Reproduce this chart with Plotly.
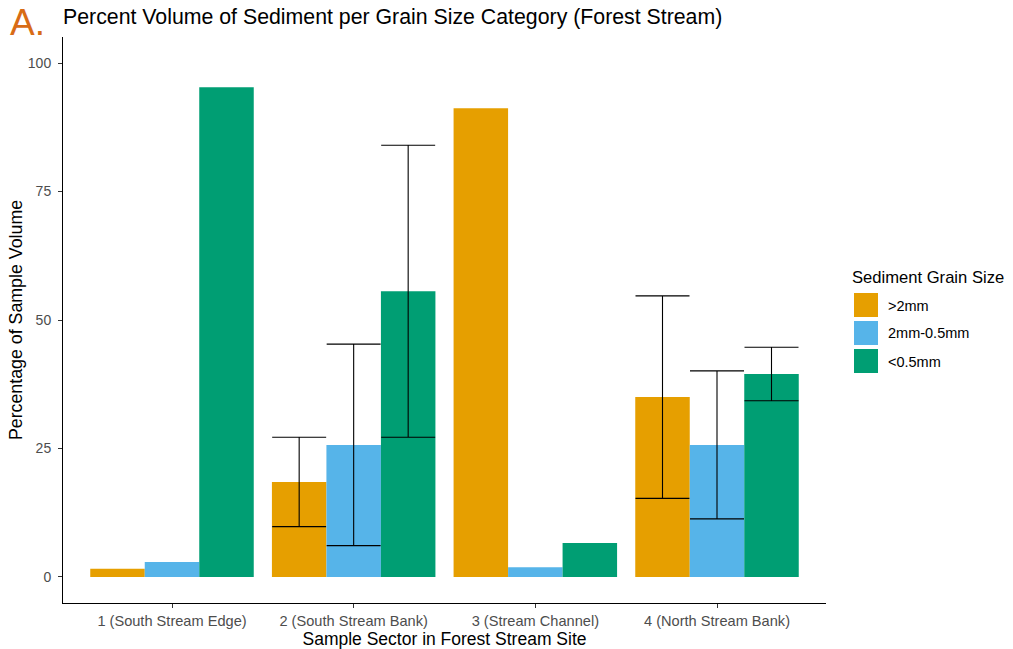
import plotly.graph_objects as go

sectors = ["1 (South Stream Edge)", "2 (South Stream Bank)", "3 (Stream Channel)", "4 (North Stream Bank)"]
grain_sizes = [">2mm", "2mm-0.5mm", "<0.5mm"]
colors = ["#E69F00", "#56B4E9", "#009E73"]

pct_gt2 = [1.6, 18.5, 91.2, 35.0]
pct_mid = [2.9, 25.7, 1.9, 25.7]
pct_lt05 = [95.3, 55.6, 6.6, 39.5]

# standard deviation (None = no error bar reported)
sd_gt2 = [None, 8.7, None, 19.7]
sd_mid = [None, 19.6, None, 14.4]
sd_lt05 = [None, 28.4, None, 5.2]

values = [pct_gt2, pct_mid, pct_lt05]
errors = [sd_gt2, sd_mid, sd_lt05]

FONT = "Liberation Sans, Arial, sans-serif"

W, H = 1013, 649
PL, PR, PT, PB = 63, 826, 37, 603  # plot area in pixels


def xp(px):
    return (px - PL) / (PR - PL)


def yp(py):
    return (PB - py) / (PB - PT)


fig = go.Figure()
for name, col, vals, errs in zip(grain_sizes, colors, values, errors):
    with_err = [i for i, e in enumerate(errs) if e is not None]
    without_err = [i for i, e in enumerate(errs) if e is None]
    fig.add_trace(go.Bar(
        x=[sectors[i] for i in without_err], y=[vals[i] for i in without_err],
        name=name, offsetgroup=name, showlegend=False,
        marker=dict(color=col, line=dict(width=0)),
    ))
    fig.add_trace(go.Bar(
        x=[sectors[i] for i in with_err], y=[vals[i] for i in with_err],
        name=name, offsetgroup=name, showlegend=False,
        marker=dict(color=col, line=dict(width=0)),
        error_y=dict(type="data", array=[errs[i] for i in with_err],
                     visible=True, color="black", thickness=1.1, width=27),
    ))

shapes = []
annotations = [
    dict(text="Percent Volume of Sediment per Grain Size Category (Forest Stream)",
         xref="paper", yref="paper", x=xp(61), y=yp(17), xanchor="left", yanchor="middle",
         showarrow=False, font=dict(size=21.3, color="black")),
    dict(text="A.", xref="paper", yref="paper", x=xp(8), y=yp(22), xanchor="left", yanchor="middle",
         showarrow=False, font=dict(size=37, color="#D86C16")),
    dict(text="Sediment Grain Size", xref="paper", yref="paper", x=xp(850), y=yp(277),
         xanchor="left", yanchor="middle", showarrow=False, font=dict(size=16.6, color="black")),
]
for i, (name, col) in enumerate(zip(grain_sizes, colors)):
    top = 293 + 28 * i
    shapes.append(dict(type="rect", xref="paper", yref="paper",
                       x0=xp(854), x1=xp(878), y0=yp(top), y1=yp(top + 24),
                       fillcolor=col, line=dict(width=0)))
    annotations.append(dict(text=name, xref="paper", yref="paper", x=xp(886), y=yp(top + 12.5),
                            xanchor="left", yanchor="middle", showarrow=False,
                            font=dict(size=14.5, color="black")))

fig.update_layout(
    width=W, height=H,
    barmode="group", bargap=0.1, bargroupgap=0,
    plot_bgcolor="white", paper_bgcolor="white",
    margin=dict(l=PL, r=W - PR, t=PT, b=H - PB),
    font=dict(family=FONT, color="black"),
    showlegend=False,
    xaxis=dict(
        type="category", range=[-0.6, 3.6], automargin=False,
        categoryorder="array", categoryarray=sectors,
        showline=True, linecolor="black", linewidth=1,
        ticks="outside", ticklen=4, tickcolor="#333333",
        tickfont=dict(size=14.6, color="#4D4D4D"),
        title=dict(text="Sample Sector in Forest Stream Site", font=dict(size=17.5), standoff=0),
        showgrid=False, zeroline=False,
    ),
    yaxis=dict(
        range=[-5.06, 105.06], automargin=False,
        tickvals=[0, 25, 50, 75, 100],
        showline=True, linecolor="black", linewidth=1,
        ticks="outside", ticklen=4, tickcolor="#333333", ticklabelstandoff=4,
        tickfont=dict(size=14, color="#4D4D4D"),
        title=dict(text="Percentage of Sample Volume", font=dict(size=17.8), standoff=0),
        showgrid=False, zeroline=False,
    ),
    shapes=shapes,
    annotations=annotations,
)

fig.write_html("out.html", config={"displayModeBar": False},
               post_script="document.body.style.margin='0';")
